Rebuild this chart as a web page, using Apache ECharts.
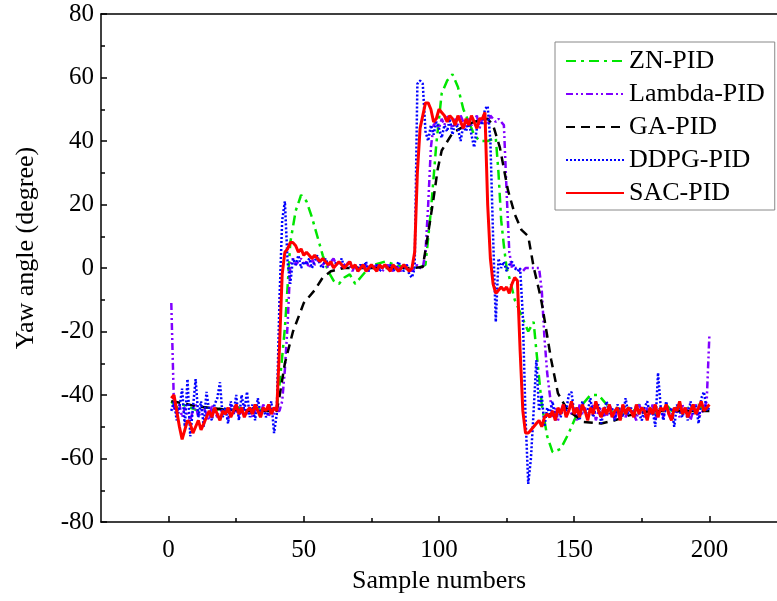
<!DOCTYPE html>
<html lang="en">
<head>
    <meta charset="UTF-8">
    <title>Yaw angle</title>
    <script src="https://cdn.jsdelivr.net/npm/echarts@6/dist/echarts.min.js"></script>
</head>
<body style="margin:0; background:#fff">
<div id="main" style="width:777px; height:601px"></div>
<script type="text/javascript">
    // x axis ticks
    var xMajorTicks = [0, 50, 100, 150, 200];
    var xMinorTicks = [25, 75, 125, 175];
    var seriesNames = ['ZN-PID', 'Lambda-PID', 'GA-PID', 'DDPG-PID', 'SAC-PID'];

    // ZN-PID, read as [sample, yaw] points
    var znPid = [
        [1, -42], [3, -44], [5, -43], [8, -44], [11, -45], [14, -44], [17, -45], [20, -44],
        [23, -45], [26, -44], [29, -45], [32, -44], [35, -45], [38, -44], [40, -44],
        [41, -37], [43, -19], [44, -6], [45, 8], [47, 18], [49, 23], [51, 21], [53, 16],
        [55, 10], [57, 4], [59, -1], [61, -4], [63, -5], [65, -3], [67, -2], [69, -5],
        [71, -3], [73, -1], [76, 1], [80, 2], [84, 1], [88, 0], [92, 0], [95, 1],
        [97, 18], [99, 39], [101, 55], [103, 59], [105, 61], [107, 57], [109, 50],
        [111, 46], [113, 42], [115, 40], [118, 40], [121, 41], [122, 30], [123, 15],
        [124, 7], [125, 0], [126, -3], [128, -10], [130, -14], [132, -18], [133, -20],
        [135, -17], [136, -26], [138, -43], [140, -53], [142, -58], [145, -57], [148, -52],
        [150, -48], [153, -43], [156, -40], [159, -40], [162, -43], [164, -45], [166, -44],
        [168, -46], [170, -44], [172, -45], [174, -43], [176, -45], [178, -44], [180, -46],
        [182, -44], [184, -43], [186, -45], [188, -44], [190, -46], [192, -44], [194, -45],
        [196, -43], [198, -45], [200, -44]
    ];

    // Lambda-PID, samples 1..200
    var lambdaPid = [
        -11, -44, -46, -43, -47, -44, -46, -48, -45, -43,
        -47, -45, -44, -46, -48, -43, -45, -47, -44, -46,
        -45, -48, -43, -46, -44, -47, -45, -43, -46, -44,
        -47, -45, -44, -46, -43, -45, -47, -44, -46, -45,
        -45, -42, -32, -18, 1, 3, 1, 2, 3, 1,
        2, 0, 3, 1, 2, 3, 1, 2, 0, 2,
        3, 1, 2, 0, 1, 2, 1, -1, 1, 0,
        1, 0, 1, -1, 0, 1, 0, 1, -1, 0,
        1, 0, -1, 1, 0, -1, 0, 1, 0, -1,
        0, 1, 0, 0, 5, 20, 38, 45, 46, 44,
        47, 45, 48, 46, 44, 47, 45, 48, 46, 44,
        47, 45, 46, 48, 44, 47, 46, 45, 48, 47,
        46, 47, 46, 45, 24, 5, 0, 0, 0, -1,
        -1, 0, 0, 0, 0, 0, 0, -7, -22, -33,
        -40, -47, -44, -48, -45, -43, -47, -44, -46, -45,
        -48, -43, -46, -44, -47, -45, -43, -48, -45, -44,
        -46, -47, -43, -45, -48, -44, -46, -43, -47, -45,
        -44, -46, -48, -43, -45, -47, -44, -46, -43, -48,
        -45, -44, -47, -43, -46, -48, -44, -45, -47, -43,
        -46, -44, -48, -45, -43, -47, -46, -44, -42, -21
    ];

    // GA-PID, read as [sample, yaw] points
    var gaPid = [
        [1, -42], [5, -42.5], [10, -43.5], [15, -44], [20, -44.5], [30, -45], [40, -45],
        [41, -40.6], [43, -30], [46, -20], [50, -11], [54, -7], [57, -3], [60, -1],
        [65, 0], [70, 0], [80, 0], [90, 0], [94, 0.3], [96, 11], [98, 22], [99.5, 31],
        [101, 37], [105, 42.5], [110, 45], [113, 46], [118, 47], [120, 45], [122.5, 38],
        [125.5, 24.5], [128, 17], [130.5, 12], [133, 10], [135, 0.3], [137, -7], [138, -11],
        [141.5, -29], [144, -39.5], [147.5, -44.7], [153.5, -48.5], [160, -49], [165, -48],
        [170, -46.5], [175, -45.5], [180, -45], [190, -45], [200, -45]
    ];

    // DDPG-PID, samples 1..200
    var ddpgPid = [
        -45, -42, -48, -44, -38, -50, -35, -53, -44, -35,
        -47, -42, -50, -39, -45, -48, -43, -41, -36, -47,
        -44, -49, -42, -46, -40, -48, -40, -45, -39, -47,
        -43, -48, -41, -46, -44, -47, -45, -42, -52, -46,
        -10, 15, 21, 2, -5, 3, 1, 4, 0, 2,
        1, 3, 0, 2, 4, 1, 0, 3, 1, 2,
        0, 2, 1, 3, 0, 1, 2, 0, 1, -1,
        1, 0, 2, -1, 1, 0, 1, -1, 0, 1,
        0, 1, -1, 0, 2, 0, -1, 1, -2, -3,
        0, 58, 59, 58, 43, 40, 45, 42, 46, 44,
        41, 45, 43, 47, 42, 46, 44, 40, 45, 43,
        46, 42, 38, 44, 47, 45, 50, 51, 40, 10,
        -17, 3, 0, 2, -1, 1, 2, 0, -1, 0,
        -15, -47, -68, -60, -45, -29, -45, -40, -50, -44,
        -46, -42, -48, -44, -47, -43, -45, -40, -39, -46,
        -44, -48, -42, -46, -45, -41, -47, -44, -43, -49,
        -45, -42, -46, -44, -48, -43, -45, -47, -41, -46,
        -44, -47, -43, -46, -48, -44, -42, -46, -45, -50,
        -33, -44, -48, -42, -46, -44, -50, -43, -45, -47,
        -44, -48, -42, -46, -43, -49, -41, -39, -45, -44
    ];

    // SAC-PID, samples 1..200
    var sacPid = [
        -41, -40, -45, -50, -54, -51, -48, -49, -52, -50,
        -48, -51, -49, -47, -45, -47, -44, -46, -48, -45,
        -46, -44, -47, -45, -43, -46, -44, -47, -45, -44,
        -46, -43, -45, -47, -44, -45, -43, -46, -44, -45,
        -25, -2, 5, 6, 8, 8, 7, 5, 6, 4,
        5, 4, 3, 4, 3, 2, 3, 2, 1, 2,
        0, 1, 2, 1, 0, 1, 2, 0, 1, -1,
        0, 1, -1, 0, 1, 0, -1, 1, 0, 1,
        0, -1, 1, 0, -1, 0, 1, 0, -1, 0,
        5, 30, 44, 48, 52, 52, 50, 46, 47, 50,
        49, 48, 46, 48, 47, 45, 48, 46, 44, 47,
        45, 48, 46, 44, 47, 47, 49, 20, 3, -5,
        -8, -7, -6, -7, -6, -8, -5, -3, -4, -26,
        -45, -52, -52, -51, -50, -49, -48, -50, -47, -46,
        -47, -45, -48, -44, -46, -43, -47, -45, -42, -46,
        -44, -47, -43, -45, -48, -44, -46, -42, -45, -47,
        -44, -46, -43, -47, -45, -44, -48, -43, -46, -44,
        -45, -47, -43, -46, -44, -45, -48, -44, -46, -43,
        -47, -44, -45, -43, -46, -48, -44, -45, -42, -46,
        -44, -47, -45, -43, -46, -44, -42, -45, -44, -43
    ];

    function withSamples(values) {
        return values.map(function (v, i) { return [i + 1, v]; });
    }

    var font = 'Liberation Serif';
    var myChart = echarts.init(document.getElementById('main'));

    function lineSeries(name, data, color, width, dash) {
        return {
            name: name,
            type: 'line',
            data: data,
            symbol: 'none',
            xAxisIndex: 0,
            yAxisIndex: 0,
            lineStyle: { color: color, width: width, type: dash },
            itemStyle: { color: color }
        };
    }

    myChart.setOption({
        animation: false,
        grid: { left: 101, top: 14, right: -8, bottom: 79 },
        legend: {
            data: seriesNames,
            orient: 'vertical',
            left: 555,
            top: 42,
            itemWidth: 58,
            itemHeight: 25,
            itemGap: 7,
            padding: [6, 10, 4, 10],
            borderColor: '#888',
            borderWidth: 1,
            itemStyle: { opacity: 0 },
            textStyle: { fontFamily: font, fontSize: 26, color: '#000' }
        },
        xAxis: [{
            type: 'value',
            min: -25,
            max: 225,
            name: 'Sample numbers',
            nameLocation: 'middle',
            nameGap: 44,
            nameTextStyle: { fontFamily: font, fontSize: 26, color: '#000' },
            axisLine: { onZero: false, lineStyle: { color: '#000', width: 1.5 } },
            axisTick: { inside: true, length: 6, customValues: xMajorTicks, lineStyle: { color: '#000', width: 1.5 } },
            axisLabel: { customValues: xMajorTicks, fontFamily: font, fontSize: 25, color: '#000', margin: 16 },
            splitLine: { show: false }
        }, {
            type: 'value',
            min: -25,
            max: 225,
            position: 'bottom',
            axisLine: { show: false, onZero: false },
            axisTick: { inside: true, length: 4, customValues: xMinorTicks, lineStyle: { color: '#000', width: 1.5 } },
            axisLabel: { show: false },
            splitLine: { show: false }
        }, {
            type: 'value',
            min: -25,
            max: 225,
            position: 'top',
            axisLine: { onZero: false, lineStyle: { color: '#000', width: 1.5 } },
            axisTick: { show: false },
            axisLabel: { show: false },
            splitLine: { show: false }
        }],
        yAxis: {
            type: 'value',
            min: -80,
            max: 80,
            interval: 20,
            name: 'Yaw angle (degree)',
            nameLocation: 'middle',
            nameGap: 62,
            nameTextStyle: { fontFamily: font, fontSize: 26, color: '#000', padding: [0, 0, 0, 40] },
            axisLine: { onZero: false, lineStyle: { color: '#000', width: 1.5 } },
            axisTick: { inside: true, length: 6, lineStyle: { color: '#000', width: 1.5 } },
            minorTick: { show: true, splitNumber: 2, length: 4, lineStyle: { color: '#000', width: 1.5 } },
            axisLabel: { fontFamily: font, fontSize: 25, color: '#000', margin: 7 },
            splitLine: { show: false }
        },
        series: [
            lineSeries('ZN-PID', znPid, '#00e600', 2.5, [10, 5, 3, 5]),
            lineSeries('Lambda-PID', withSamples(lambdaPid), '#8000ff', 2.5, [7, 3, 2, 3, 2, 3]),
            lineSeries('GA-PID', gaPid, '#000000', 2.5, [9, 6]),
            lineSeries('DDPG-PID', withSamples(ddpgPid), '#0000ff', 2.5, [2, 2]),
            lineSeries('SAC-PID', withSamples(sacPid), '#ff0000', 3, 'solid')
        ]
    });
</script>
</body>
</html>
